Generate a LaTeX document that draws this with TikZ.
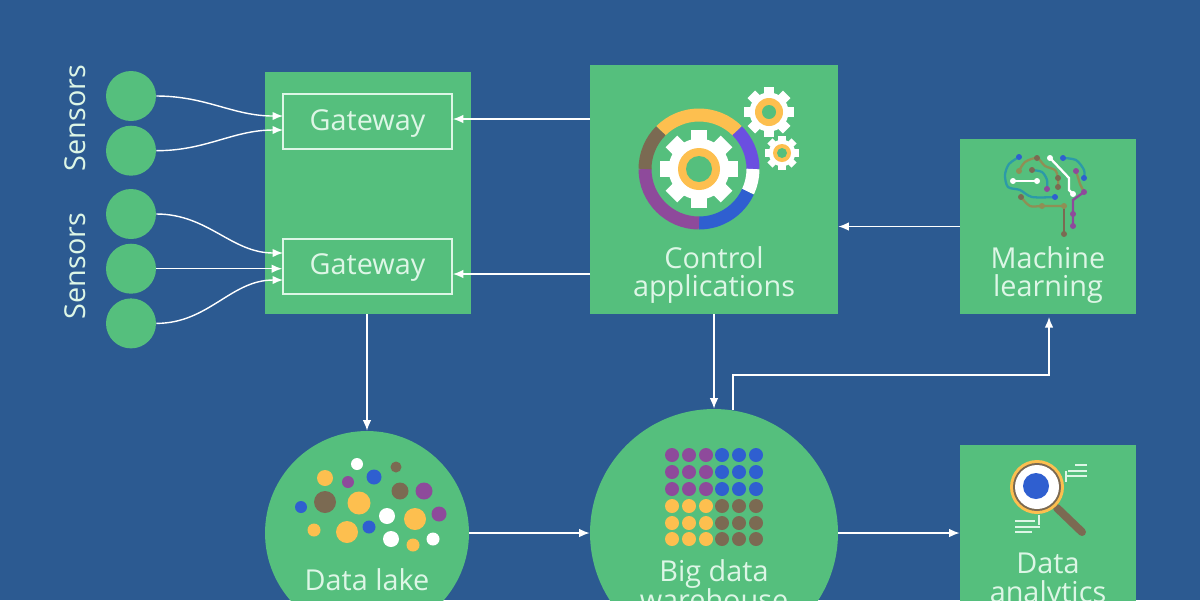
\documentclass[tikz,border=0pt]{standalone}
\usepackage{fontspec}
\setmainfont{Open Sans}
\usepackage{tikz}
\usetikzlibrary{positioning, arrows.meta, shapes.geometric}
\definecolor{bgblue}{HTML}{2C5A91}
\definecolor{boxgreen}{HTML}{55BF7D}
\definecolor{labelgreen}{HTML}{DDF6E6}
\definecolor{dotyellow}{HTML}{FDBF4F}
\definecolor{dotpurple}{HTML}{8E4A9B}
\definecolor{dotblue}{HTML}{2F5FD0}
\definecolor{dotbrown}{HTML}{7B6A52}
\definecolor{dotlilac}{HTML}{6B4FE0}
\definecolor{wireteal}{HTML}{2C9AA8}
\definecolor{wireolive}{HTML}{8F8F55}
\tikzset{
    bigbox/.style={fill=boxgreen, inner sep=0pt},
    gatebox/.style={draw=labelgreen, line width=1pt, inner sep=0pt, minimum width=3.38cm, minimum height=1.1cm},
    sensor/.style={circle, fill=boxgreen, inner sep=0pt, minimum size=1cm},
    bigcircle/.style={circle, fill=boxgreen, inner sep=0pt},
    caption/.style={text=labelgreen, font=\fontsize{16.4}{16.4}\selectfont, align=center, inner sep=0pt},
    link/.style={-{Latex[length=2.1mm, width=1.7mm]}, white, line width=0.8pt},
    wire/.style={line width=1.3pt},
    ringseg/.style={line width=0.26cm}
}
% center x, center y, outer radius, ring radius, hole radius
\newcommand{\gearicon}[5]{
    \foreach \a in {0,45,...,315}
        \draw[white, line width=#3*0.0085cm] (#1,#2) -- ++(\a:#3);
    \fill[white] (#1,#2) circle (#3*0.78);
    \fill[dotyellow] (#1,#2) circle (#4);
    \fill[boxgreen] (#1,#2) circle (#5);
}
\newcommand{\wiredot}[3]{\fill[#3] (#1,#2) circle (3);}
\begin{document}
\begin{tikzpicture}[x=0.02cm, y=-0.02cm]
    \useasboundingbox (0,0) rectangle (1200,600);
    \clip (0,0) rectangle (1200,600);
    \fill[bgblue] (0,0) rectangle (1200,600);

    % boxes
    \node [bigbox, minimum width=4.12cm, minimum height=4.84cm] (G) at (368,193) {};
    \node [gatebox] (GA) at (367.5,121.5) {};
    \node [gatebox] (GB) at (367.5,266.5) {};
    \node [bigbox, minimum width=4.96cm, minimum height=4.98cm] (C) at (714,189.5) {};
    \node [bigbox, minimum width=3.52cm, minimum height=3.5cm] (M) at (1048,226.5) {};
    \node [bigbox, minimum width=3.52cm, minimum height=4.2cm] (A) at (1048,550) {};
    \node [bigcircle, minimum size=4.08cm] (L) at (367,533) {};
    \node [bigcircle, minimum size=4.96cm] (W) at (714,533) {};

    % sensors
    \node [sensor] (S1) at (131,96) {};
    \node [sensor, below=0.08cm of S1] (S2) {};
    \node [sensor] (S3) at (131,214) {};
    \node [sensor, below=0.08cm of S3] (S4) {};
    \node [sensor, below=0.08cm of S4] (S5) {};
    \node [caption, rotate=90] (SL1) at (75,118) {Sensors};
    \node [caption, rotate=90] (SL2) at (75,266) {Sensors};

    % labels
    \node [caption] (GT1) at (367.5,124) {Gateway};
    \node [caption] (GT2) at (367.5,268) {Gateway};
    \node [caption] (CT) at (714,275) {Control\\applications};
    \node [caption] (MT) at (1048,275) {Machine\\learning};
    \node [caption] (LT) at (367,580) {Data lake};
    \node [caption] (WT) at (714,585.5) {Big data\\warehouse};
    \node [caption] (AT) at (1048,581) {Data\\analytics};

    % connectors
    \coordinate (GAa) at (283,116);
    \coordinate (GAb) at (283,130);
    \coordinate (GBa) at (283,253);
    \coordinate (GBc) at (283,280);
    \coordinate (GAr) at (590,119);
    \coordinate (GBr) at (590,274);
    \coordinate (Wup) at (733,410);
    \coordinate (Wrise) at (733,375);
    \coordinate (Mrun) at (1049,375);
    \coordinate (Mend) at (1049,317);
    \draw[link] (S1.east) to[out=0, in=180] (GAa);
    \draw[link] (S2.east) to[out=0, in=180] (GAb);
    \draw[link] (S3.east) to[out=0, in=180] (GBa);
    \draw[link] (S4.east) -- (GB.west |- S4.east);
    \draw[link] (S5.east) to[out=0, in=180] (GBc);
    \draw[link] (GAr) -- (GAr -| GA.east);
    \draw[link] (GBr) -- (GBr -| GB.east);
    \draw[link] (M.west) -- (C.east |- M.west);
    \draw[link] (G.south -| L.north) -- (L.north);
    \draw[link] (C.south -| W.north) -- (W.north);
    \draw[link] (Wup) -- (Wrise) -- (Mrun) -- (Mend);
    \draw[link] (L.east) -- (W.west);
    \draw[link] (W.east) -- (A.west |- W.east);

    % control icon
    \foreach \st/\en/\col in {-135/-45/dotyellow, -45/0/dotlilac, 0/25/white, 25/90/dotblue, 90/180/dotpurple, 180/225/dotbrown}
        \draw[ringseg, \col] (699,169) ++(\st:54) arc[start angle=\st, end angle=\en, radius=54];
    \gearicon{699}{169}{39}{21}{13}
    \gearicon{769}{112}{25}{14}{7}
    \gearicon{782}{153}{17}{9}{5}

    % brain icon
    \draw[wire, wireteal] plot[smooth] coordinates {(1019,157) (1009,164) (1005,175) (1008,187) (1020,190) (1032,197) (1055,197)};
    \draw[wire, wireteal] plot[smooth] coordinates {(1063,158) (1076,160) (1084,170) (1084,178)};
    \draw[wire, wireolive] plot[smooth] coordinates {(1019,171) (1025,162) (1037,158) (1045,166) (1055,170) (1058,178) (1058,187)};
    \draw[wire, wireteal] plot[smooth] coordinates {(1032,170) (1042,172) (1047,180) (1047,189)};
    \draw[wire, wireolive] plot[smooth] coordinates {(1021,197) (1030,206) (1042,206) (1064,206)};
    \draw[wire, wireolive] (1076,171) -- (1080,184) -- (1084,192);
    \draw[wire, dotbrown] (1064,206) -- (1064,234);
    \draw[wire, dotpurple] (1084,192) -- (1073,200) -- (1073,226);
    \draw[wire, white] (1013,181) -- (1037,181);
    \draw[wire, white] (1050,158) -- (1069,178) -- (1069,190) -- (1073,194);
    \foreach \x/\y/\col in {1019/157/dotblue, 1063/158/dotblue, 1084/178/dotblue, 1055/197/dotblue,
        1037/158/dotbrown, 1019/171/wireolive, 1032/170/dotbrown, 1058/178/dotbrown, 1058/187/dotbrown,
        1047/189/dotpurple, 1021/197/dotbrown, 1042/206/wireolive, 1064/206/wireolive, 1064/234/dotbrown,
        1076/171/dotpurple, 1084/192/dotpurple, 1073/214/dotpurple, 1073/226/dotpurple,
        1050/158/white, 1013/181/white, 1037/181/white, 1073/194/white}
        {\wiredot{\x}{\y}{\col}}

    % lake dots
    \foreach \x/\y/\r/\col in {357/464/6/white, 325/478/8/dotyellow, 348/482/6/dotpurple, 374/477/7.5/dotblue,
        396/467/5.5/dotbrown, 400/491/8.5/dotbrown, 424/491/8.5/dotpurple, 325/502/11/dotbrown,
        359/503/11.5/dotyellow, 301/507/6/dotblue, 387/516/8/white, 415/519/11/dotyellow,
        439/514/7.5/dotpurple, 314/530/6.5/dotyellow, 347/532/11/dotyellow, 369/527/6.5/dotblue,
        391/539/8/white, 413/545/6.5/dotyellow, 433/539/6.5/white}
        \fill[\col] (\x,\y) circle (\r);

    % warehouse dots
    \foreach \x in {672,689,706} {
        \foreach \y in {455,472,489} \fill[dotpurple] (\x,\y) circle (7);
        \foreach \y in {506,523,539} \fill[dotyellow] (\x,\y) circle (7);
    }
    \foreach \x in {722,739,756} {
        \foreach \y in {455,472,489} \fill[dotblue] (\x,\y) circle (7);
        \foreach \y in {506,523,539} \fill[dotbrown] (\x,\y) circle (7);
    }

    % analytics icon
    \draw[dotbrown, line width=0.16cm, line cap=round] (1057,508) -- (1082,532);
    \fill[dotyellow] (1037,487) circle (27);
    \fill[dotbrown] (1037,487) circle (24);
    \fill[white] (1037,487) circle (22);
    \fill[dotblue] (1036,486) circle (13);
    \draw[labelgreen, line width=0.7pt] (1075,465) -- (1087,465) (1068,471) -- (1087,471) (1066,476) -- (1087,476) (1066,471) -- (1066,482);
    \draw[labelgreen, line width=0.7pt] (1015,521) -- (1035,521) (1015,527) -- (1040,527) (1015,532) -- (1032,532) (1039,515) -- (1039,525);
\end{tikzpicture}
\end{document}
